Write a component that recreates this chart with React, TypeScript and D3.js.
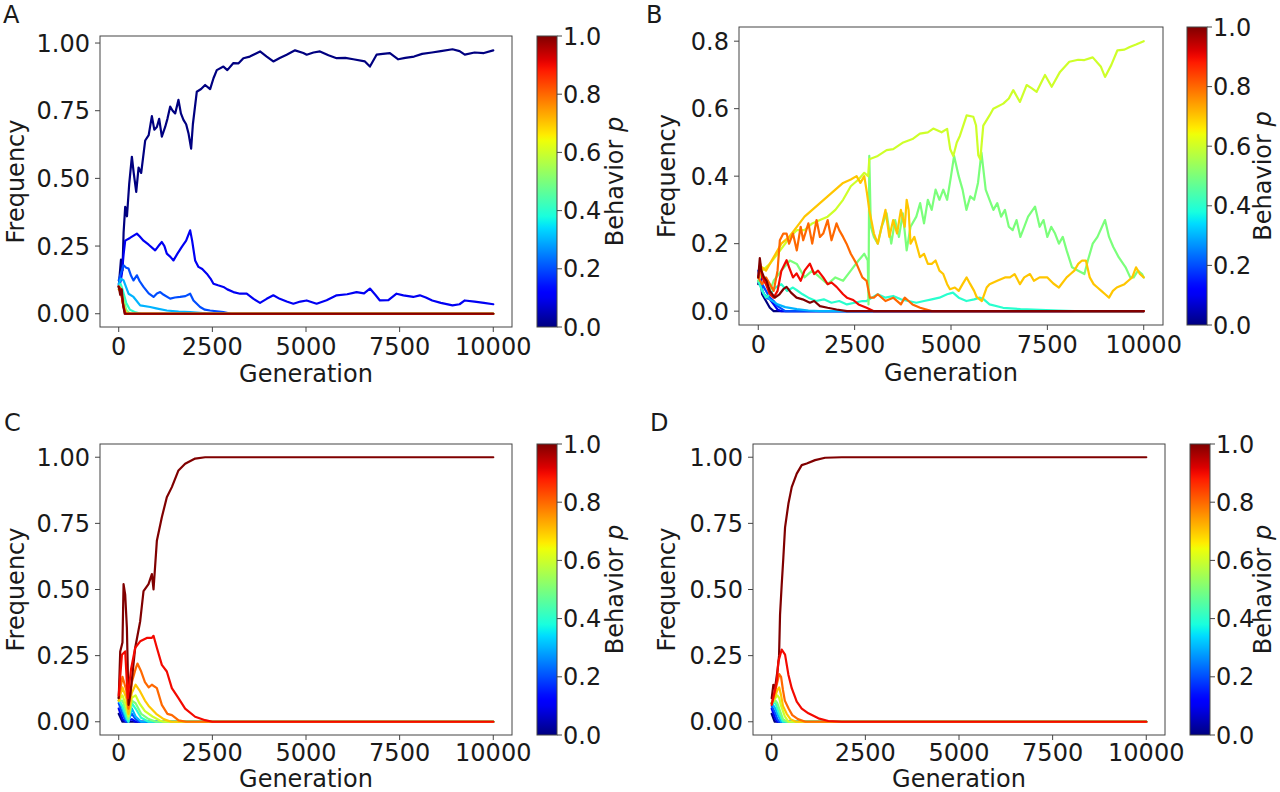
import React from "react";
import * as d3 from "d3";

type Pt = [number, number];

// ---------------- Panel A data (generation, frequency) ----------------
const A_p00: Pt[] = [[0,0.10],[60,0.2],[100,0.16],[130,0.3],[173,0.395],[220,0.36],[280,0.48],[351,0.58],[400,0.52],[467,0.45],[530,0.54],[600,0.52],[707,0.64],[800,0.66],[885,0.73],[950,0.68],[1018,0.69],[1080,0.72],[1151,0.654],[1240,0.69],[1300,0.72],[1373,0.765],[1440,0.75],[1507,0.74],[1595,0.79],[1660,0.74],[1728,0.716],[1800,0.7],[1862,0.667],[1933,0.61],[1980,0.7],[2084,0.82],[2200,0.83],[2307,0.845],[2440,0.83],[2530,0.87],[2618,0.90],[2795,0.913],[2900,0.9],[3062,0.926],[3200,0.925],[3328,0.944],[3500,0.95],[3773,0.969],[3951,0.95],[4128,0.932],[4300,0.945],[4484,0.957],[4707,0.973],[4929,0.963],[5018,0.957],[5200,0.965],[5373,0.969],[5600,0.955],[5818,0.944],[6050,0.945],[6262,0.94],[6573,0.932],[6707,0.913],[6884,0.957],[7050,0.96],[7240,0.963],[7462,0.94],[7650,0.945],[7884,0.95],[8100,0.96],[8362,0.965],[8600,0.97],[8912,0.977],[9100,0.97],[9240,0.957],[9500,0.965],[9750,0.963],[10000,0.973]];
const A_p01: Pt[] = [[0,0.1],[50,0.12],[85,0.148],[130,0.22],[173,0.27],[300,0.28],[484,0.296],[562,0.285],[662,0.27],[800,0.255],[973,0.234],[1060,0.25],[1151,0.265],[1220,0.25],[1284,0.222],[1380,0.21],[1462,0.197],[1560,0.22],[1684,0.247],[1800,0.27],[1907,0.308],[1960,0.27],[2040,0.197],[2129,0.173],[2230,0.165],[2351,0.148],[2450,0.13],[2529,0.111],[2650,0.105],[2795,0.099],[2900,0.09],[3062,0.08],[3240,0.074],[3417,0.074],[3600,0.055],[3773,0.04],[3950,0.055],[4128,0.068],[4300,0.055],[4484,0.045],[4662,0.037],[4850,0.045],[5018,0.049],[5284,0.037],[5550,0.05],[5818,0.068],[6100,0.072],[6350,0.08],[6550,0.075],[6707,0.093],[6850,0.07],[6973,0.049],[7200,0.05],[7418,0.074],[7600,0.068],[7862,0.062],[8040,0.068],[8200,0.06],[8370,0.049],[8600,0.04],[8912,0.031],[9100,0.035],[9240,0.049],[9500,0.045],[9750,0.04],[10000,0.035]];
const A_p02: Pt[] = [[0,0.123],[60,0.15],[129,0.179],[200,0.17],[262,0.167],[330,0.14],[395,0.123],[484,0.142],[560,0.12],[662,0.099],[800,0.075],[929,0.062],[1020,0.075],[1107,0.08],[1200,0.07],[1373,0.056],[1500,0.06],[1640,0.062],[1780,0.065],[1907,0.074],[1996,0.049],[2173,0.025],[2300,0.015],[2440,0.012],[2795,0.006],[3000,0],[10000,0]];
const A_p03: Pt[] = [[0,0.11],[60,0.13],[129,0.123],[262,0.074],[395,0.062],[573,0.031],[840,0.025],[1000,0.02],[1284,0.012],[1600,0.008],[1907,0.006],[2500,0],[10000,0]];
const A_p04: Pt[] = [[0,0.1],[50,0.11],[100,0.09],[200,0.04],[300,0.015],[450,0.005],[600,0],[10000,0]];
const A_p05: Pt[] = [[0,0.1],[50,0.1],[100,0.07],[200,0.015],[300,0],[10000,0]];
const A_p06: Pt[] = [[0,0.09],[50,0.09],[100,0.05],[180,0.005],[250,0],[10000,0]];
const A_p07: Pt[] = [[0,0.09],[60,0.08],[120,0.03],[200,0],[10000,0]];
const A_p08: Pt[] = [[0,0.1],[60,0.09],[120,0.03],[180,0],[10000,0]];
const A_p09: Pt[] = [[0,0.1],[50,0.09],[110,0.04],[170,0],[10000,0]];
const A_p10: Pt[] = [[0,0.1],[40,0.07],[80,0.09],[120,0.03],[160,0],[10000,0]];

// ---------------- Panel B data ----------------
const B_p00: Pt[] = [[0,0.08],[50,0.1],[100,0.05],[200,0.03],[300,0.01],[400,0],[10000,0]];
const B_p01: Pt[] = [[0,0.1],[50,0.12],[100,0.06],[200,0.04],[300,0.035],[400,0.02],[500,0.005],[600,0],[10000,0]];
const B_p02: Pt[] = [[0,0.12],[50,0.09],[100,0.08],[200,0.06],[300,0.04],[400,0.03],[500,0.015],[700,0],[10000,0]];
const B_p03: Pt[] = [[0,0.09],[80,0.07],[150,0.05],[300,0.035],[500,0.02],[700,0.012],[1000,0.006],[1300,0.002],[1600,0],[10000,0]];
const B_p04: Pt[] = [[0,0.09],[100,0.06],[200,0.04],[300,0.05],[450,0.07],[600,0.08],[750,0.06],[900,0.07],[1000,0.062],[1150,0.05],[1300,0.04],[1500,0.03],[1700,0.035],[1900,0.025],[2100,0.03],[2300,0.02],[2500,0.025],[2700,0.03],[2810,0.03],[2950,0.04],[3100,0.05],[3300,0.04],[3500,0.045],[3700,0.035],[3900,0.03],[4100,0.025],[4300,0.03],[4500,0.035],[4700,0.04],[4900,0.05],[5050,0.055],[5200,0.04],[5400,0.03],[5600,0.035],[5750,0.04],[5850,0.035],[6000,0.02],[6350,0.01],[6800,0.006],[7300,0.004],[7800,0.002],[8200,0],[10000,0]];
const B_p05: Pt[] = [[0,0.09],[100,0.11],[200,0.08],[300,0.06],[400,0.09],[600,0.12],[820,0.15],[1000,0.14],[1200,0.1],[1400,0.12],[1600,0.1],[1800,0.08],[2000,0.1],[2200,0.09],[2400,0.12],[2600,0.15],[2750,0.17],[2840,0.15],[2860,0.02],[2880,0.46],[2920,0.25],[3000,0.22],[3100,0.2],[3200,0.25],[3330,0.29],[3450,0.2],[3550,0.27],[3650,0.22],[3750,0.29],[3850,0.18],[3950,0.25],[4100,0.28],[4200,0.32],[4300,0.26],[4400,0.33],[4500,0.3],[4600,0.36],[4700,0.33],[4800,0.36],[4900,0.33],[5000,0.4],[5080,0.46],[5200,0.4],[5300,0.36],[5400,0.3],[5500,0.34],[5600,0.33],[5700,0.38],[5790,0.47],[5900,0.36],[6000,0.33],[6100,0.3],[6200,0.32],[6300,0.28],[6400,0.3],[6500,0.25],[6600,0.24],[6700,0.27],[6800,0.22],[6900,0.25],[7000,0.28],[7180,0.31],[7300,0.25],[7400,0.27],[7500,0.22],[7600,0.25],[7700,0.23],[7800,0.2],[7900,0.22],[8000,0.18],[8140,0.13],[8300,0.12],[8461,0.11],[8550,0.15],[8677,0.2],[8800,0.22],[8996,0.27],[9100,0.22],[9210,0.19],[9350,0.16],[9530,0.13],[9650,0.1],[9740,0.1],[9850,0.12],[9956,0.11],[10000,0.1]];
const B_p06: Pt[] = [[0,0.1],[100,0.12],[200,0.13],[300,0.14],[500,0.17],[700,0.2],[820,0.22],[1000,0.24],[1200,0.24],[1400,0.26],[1600,0.27],[1800,0.28],[2000,0.3],[2200,0.33],[2400,0.37],[2600,0.39],[2750,0.41],[2850,0.4],[2880,0.45],[3100,0.46],[3330,0.477],[3500,0.48],[3761,0.5],[4000,0.51],[4194,0.526],[4400,0.53],[4540,0.541],[4756,0.53],[4900,0.54],[4980,0.48],[5060,0.46],[5150,0.5],[5232,0.52],[5406,0.58],[5579,0.576],[5650,0.55],[5708,0.462],[5760,0.45],[5837,0.55],[6000,0.58],[6097,0.6],[6356,0.615],[6500,0.63],[6616,0.655],[6789,0.62],[6962,0.67],[7100,0.66],[7222,0.65],[7439,0.7],[7612,0.665],[7828,0.709],[8070,0.739],[8300,0.745],[8461,0.744],[8677,0.752],[8890,0.724],[8996,0.694],[9157,0.729],[9318,0.773],[9500,0.775],[9637,0.783],[9800,0.79],[10000,0.8]];
const B_p07: Pt[] = [[0,0.1],[100,0.13],[200,0.12],[300,0.14],[400,0.16],[600,0.2],[800,0.22],[1000,0.25],[1200,0.28],[1400,0.3],[1600,0.32],[1800,0.34],[2000,0.36],[2200,0.38],[2400,0.39],[2550,0.4],[2650,0.38],[2750,0.4],[2820,0.35],[2880,0.3],[2950,0.26],[3000,0.23],[3100,0.2],[3200,0.25],[3300,0.3],[3400,0.22],[3500,0.27],[3600,0.23],[3700,0.3],[3800,0.25],[3850,0.33],[3900,0.3],[3950,0.2],[4050,0.22],[4194,0.16],[4300,0.17],[4400,0.14],[4500,0.14],[4600,0.15],[4700,0.12],[4800,0.11],[4900,0.08],[4973,0.065],[5100,0.07],[5200,0.06],[5300,0.08],[5406,0.1],[5500,0.08],[5600,0.06],[5665,0.042],[5800,0.03],[5925,0.07],[6000,0.08],[6200,0.09],[6400,0.1],[6530,0.1],[6650,0.11],[6789,0.08],[6900,0.1],[7049,0.11],[7150,0.09],[7300,0.1],[7500,0.1],[7655,0.082],[7800,0.07],[8000,0.1],[8100,0.11],[8200,0.12],[8300,0.14],[8400,0.15],[8500,0.15],[8600,0.1],[8700,0.08],[8800,0.07],[8900,0.06],[9000,0.05],[9100,0.04],[9200,0.06],[9300,0.07],[9500,0.08],[9600,0.09],[9700,0.1],[9800,0.13],[9900,0.11],[10000,0.1]];
const B_p08: Pt[] = [[0,0.1],[100,0.08],[200,0.1],[300,0.08],[400,0.06],[500,0.12],[560,0.21],[650,0.23],[734,0.23],[800,0.2],[900,0.23],[1000,0.18],[1100,0.25],[1166,0.21],[1300,0.26],[1400,0.2],[1512,0.27],[1600,0.22],[1685,0.23],[1800,0.27],[1900,0.21],[2031,0.26],[2100,0.24],[2200,0.22],[2290,0.2],[2400,0.17],[2550,0.14],[2700,0.1],[2810,0.09],[2896,0.04],[3000,0.04],[3100,0.05],[3300,0.03],[3500,0.04],[3700,0.02],[3800,0.04],[3900,0.03],[4000,0.02],[4200,0.01],[4500,0],[10000,0]];
const B_p09: Pt[] = [[0,0.1],[50,0.14],[100,0.1],[200,0.08],[300,0.05],[400,0.04],[500,0.06],[600,0.12],[734,0.151],[800,0.13],[900,0.1],[993,0.112],[1100,0.09],[1200,0.12],[1339,0.141],[1450,0.11],[1550,0.12],[1685,0.1],[1800,0.08],[1900,0.085],[2031,0.072],[2200,0.05],[2300,0.04],[2463,0.033],[2600,0.02],[2810,0.01],[3000,0],[10000,0]];
const B_p10: Pt[] = [[0,0.1],[40,0.157],[80,0.12],[150,0.1],[215,0.09],[300,0.06],[431,0.04],[550,0.05],[650,0.065],[734,0.072],[850,0.055],[993,0.04],[1150,0.035],[1339,0.025],[1450,0.03],[1600,0.015],[1800,0.01],[2031,0.005],[2300,0],[10000,0]];

// ---------------- Panel C data ----------------
const C_p00: Pt[] = [[0,0.03],[100,0],[10000,0]];
const C_p01: Pt[] = [[0,0.05],[100,0.01],[200,0],[350,0.01],[450,0],[10000,0]];
const C_p02: Pt[] = [[0,0.07],[100,0.03],[200,0],[350,0.03],[450,0.01],[550,0],[10000,0]];
const C_p03: Pt[] = [[0,0.09],[100,0.05],[200,0.01],[260,0],[350,0.05],[450,0.02],[600,0],[10000,0]];
const C_p04: Pt[] = [[0,0.08],[100,0.06],[200,0.02],[260,0],[350,0.07],[450,0.05],[600,0.015],[800,0],[10000,0]];
const C_p05: Pt[] = [[0,0.08],[100,0.08],[200,0.04],[260,0.01],[350,0.08],[450,0.07],[600,0.03],[800,0.01],[1000,0],[10000,0]];
const C_p06: Pt[] = [[0,0.08],[100,0.1],[200,0.06],[260,0.02],[350,0.09],[450,0.1],[550,0.07],[700,0.04],[900,0.02],[1100,0.005],[1200,0],[10000,0]];
const C_p07: Pt[] = [[0,0.08],[100,0.13],[200,0.09],[260,0.03],[350,0.11],[450,0.14],[550,0.12],[700,0.08],[800,0.06],[1000,0.03],[1200,0.01],[1400,0],[10000,0]];
const C_p08: Pt[] = [[0,0.09],[100,0.17],[200,0.12],[260,0.05],[350,0.15],[450,0.2],[500,0.22],[600,0.19],[700,0.15],[800,0.13],[885,0.14],[1018,0.127],[1151,0.064],[1300,0.03],[1420,0.025],[1600,0.005],[1800,0],[10000,0]];
const C_p09: Pt[] = [[0,0.1],[85,0.253],[173,0.266],[240,0.089],[330,0.2],[440,0.28],[573,0.304],[750,0.317],[885,0.317],[929,0.325],[1018,0.28],[1151,0.215],[1284,0.19],[1418,0.127],[1595,0.089],[1773,0.05],[2040,0.019],[2307,0.006],[2500,0],[10000,0]];
const C_p10: Pt[] = [[0,0.089],[40,0.266],[100,0.3],[129,0.52],[173,0.48],[218,0.355],[262,0.064],[307,0.1],[440,0.28],[573,0.38],[662,0.494],[795,0.52],[885,0.558],[929,0.5],[1018,0.684],[1151,0.773],[1284,0.849],[1418,0.887],[1595,0.95],[1773,0.975],[2040,0.995],[2307,1.0],[2500,1.0],[10000,1.0]];

// ---------------- Panel D data ----------------
const D_p00: Pt[] = [[0,0.03],[80,0],[10000,0]];
const D_p01: Pt[] = [[0,0.05],[100,0.01],[150,0],[10000,0]];
const D_p02: Pt[] = [[0,0.06],[100,0.03],[150,0.01],[200,0],[10000,0]];
const D_p03: Pt[] = [[0,0.07],[100,0.05],[150,0.03],[250,0],[10000,0]];
const D_p04: Pt[] = [[0,0.07],[100,0.07],[150,0.05],[200,0.03],[300,0],[10000,0]];
const D_p05: Pt[] = [[0,0.07],[100,0.08],[150,0.07],[200,0.05],[300,0.01],[400,0],[10000,0]];
const D_p06: Pt[] = [[0,0.07],[100,0.09],[150,0.1],[200,0.09],[250,0.06],[350,0.02],[450,0],[10000,0]];
const D_p07: Pt[] = [[0,0.07],[100,0.1],[150,0.12],[200,0.13],[250,0.1],[300,0.06],[400,0.03],[500,0.01],[650,0],[10000,0]];
const D_p08: Pt[] = [[0,0.07],[100,0.12],[150,0.15],[200,0.18],[250,0.17],[300,0.12],[350,0.08],[450,0.05],[550,0.025],[700,0.01],[900,0],[10000,0]];
const D_p09: Pt[] = [[0,0.064],[133,0.152],[178,0.228],[267,0.273],[356,0.254],[445,0.178],[534,0.127],[668,0.076],[801,0.05],[979,0.032],[1246,0.013],[1513,0.003],[1870,0],[10000,0]];
const D_p10: Pt[] = [[0,0.089],[44,0.14],[89,0.127],[160,0.2],[196,0.25],[222,0.405],[267,0.52],[310,0.62],[356,0.735],[445,0.824],[534,0.887],[668,0.938],[801,0.97],[935,0.976],[1157,0.989],[1424,0.998],[1870,1.0],[10000,1.0]];

const BEHAVIORS = [0, 0.1, 0.2, 0.3, 0.4, 0.5, 0.6, 0.7, 0.8, 0.9, 1.0];
const X_TICKS = [0, 2500, 5000, 7500, 10000];
const Y_TICKS_A = [0, 0.25, 0.5, 0.75, 1.0];
const Y_TICKS_B = [0, 0.2, 0.4, 0.6, 0.8];
const CB_TICKS = [0, 0.2, 0.4, 0.6, 0.8, 1.0];

const SERIES_A = [A_p00, A_p01, A_p02, A_p03, A_p04, A_p05, A_p06, A_p07, A_p08, A_p09, A_p10];
const SERIES_B = [B_p00, B_p01, B_p02, B_p03, B_p04, B_p05, B_p06, B_p07, B_p08, B_p09, B_p10];
const SERIES_C = [C_p00, C_p01, C_p02, C_p03, C_p04, C_p05, C_p06, C_p07, C_p08, C_p09, C_p10];
const SERIES_D = [D_p00, D_p01, D_p02, D_p03, D_p04, D_p05, D_p06, D_p07, D_p08, D_p09, D_p10];

// matplotlib "jet" colormap as piecewise-linear d3 scales
const jetR = d3.scaleLinear().domain([0, 0.35, 0.66, 0.89, 1]).range([0, 0, 1, 1, 0.5]).clamp(true);
const jetG = d3.scaleLinear().domain([0, 0.125, 0.375, 0.64, 0.91, 1]).range([0, 0, 1, 1, 0, 0]).clamp(true);
const jetB = d3.scaleLinear().domain([0, 0.11, 0.34, 0.65, 1]).range([0.5, 1, 1, 0, 0]).clamp(true);
const jet = (t: number) => d3.rgb(jetR(t) * 255, jetG(t) * 255, jetB(t) * 255).formatHex();

const FONT = "'DejaVu Sans', sans-serif";
const FS = 24;
const TXT = "#1a1a1a";
const AX = "#444";

type Layout = {
  id: string;
  letter: string;
  lx: number; ly: number;
  l: number; r: number; t: number; b: number;
  yDomain: [number, number];
  yTicks: number[];
  yFmt: string;
  cbL: number; cbR: number;
  xTickY: number; xLabelY: number;
  yLabelX: number; cbLabelX: number;
  series: Pt[][];
  order: number[];
};

const PANELS: Layout[] = [
  { id: "A", letter: "A", lx: 3, ly: 23, l: 100, r: 512, t: 36, b: 327, yDomain: [-0.049, 1.026], yTicks: Y_TICKS_A, yFmt: ".2f", cbL: 537, cbR: 557, xTickY: 355, xLabelY: 382, yLabelX: 24, cbLabelX: 623, series: SERIES_A, order: [0,1,2,3,4,5,6,7,8,9,10] },
  { id: "B", letter: "B", lx: 646, ly: 23, l: 739, r: 1163, t: 27, b: 325, yDomain: [-0.041, 0.842], yTicks: Y_TICKS_B, yFmt: ".1f", cbL: 1187, cbR: 1207, xTickY: 353, xLabelY: 381, yLabelX: 675, cbLabelX: 1271, series: SERIES_B, order: [0,1,2,3,4,5,6,7,8,9,10] },
  { id: "C", letter: "C", lx: 4, ly: 431, l: 100, r: 512, t: 444, b: 735, yDomain: [-0.05, 1.05], yTicks: Y_TICKS_A, yFmt: ".2f", cbL: 537, cbR: 557, xTickY: 761, xLabelY: 787, yLabelX: 24, cbLabelX: 623, series: SERIES_C, order: [0,1,2,3,4,5,6,7,8,10,9] },
  { id: "D", letter: "D", lx: 650, ly: 431, l: 753, r: 1165, t: 444, b: 735, yDomain: [-0.05, 1.05], yTicks: Y_TICKS_A, yFmt: ".2f", cbL: 1190, cbR: 1210, xTickY: 761, xLabelY: 787, yLabelX: 675, cbLabelX: 1271, series: SERIES_D, order: [0,1,2,3,4,5,6,7,8,10,9] },
];

function Panel({ p }: { p: Layout }) {
  const x = d3.scaleLinear().domain([-500, 10500]).range([p.l, p.r]);
  const y = d3.scaleLinear().domain(p.yDomain).range([p.b, p.t]);
  const cb = d3.scaleLinear().domain([0, 1]).range([p.b, p.t]);
  const line = d3.line<Pt>().x((d) => x(d[0])).y((d) => y(d[1]));
  const fmt = d3.format(p.yFmt);
  const gid = `jet-${p.id}`;
  const stops = d3.range(0, 1.0001, 0.02);
  const midY = (p.t + p.b) / 2;
  return (
    <g>
      <defs>
        <linearGradient id={gid} x1="0" y1="1" x2="0" y2="0">
          {stops.map((s) => (
            <stop key={s} offset={s} stopColor={jet(s)} />
          ))}
        </linearGradient>
      </defs>
      <text x={p.lx} y={p.ly} fontSize={24} fontFamily={FONT} fill={TXT}>{p.letter}</text>
      <g fill="none" strokeWidth={2.2} strokeLinejoin="round" strokeLinecap="round">
        {p.order.map((i) => (
          <path key={i} d={line(p.series[i]) || ""} stroke={jet(BEHAVIORS[i])} />
        ))}
      </g>
      <rect x={p.l} y={p.t} width={p.r - p.l} height={p.b - p.t} fill="none" stroke={AX} strokeWidth={1} />
      {X_TICKS.map((v) => (
        <g key={`x${v}`}>
          <line x1={x(v)} x2={x(v)} y1={p.b} y2={p.b + 5} stroke={AX} strokeWidth={1} />
          <text x={x(v)} y={p.xTickY} textAnchor="middle" fontSize={FS} fontFamily={FONT} fill={TXT}>{v}</text>
        </g>
      ))}
      {p.yTicks.map((v) => (
        <g key={`y${v}`}>
          <line x1={p.l - 5} x2={p.l} y1={y(v)} y2={y(v)} stroke={AX} strokeWidth={1} />
          <text x={p.l - 10} y={y(v)} dy="0.36em" textAnchor="end" fontSize={FS} fontFamily={FONT} fill={TXT}>{fmt(v)}</text>
        </g>
      ))}
      <text x={(p.l + p.r) / 2} y={p.xLabelY} textAnchor="middle" fontSize={FS} fontFamily={FONT} fill={TXT}>Generation</text>
      <text transform={`translate(${p.yLabelX},${midY}) rotate(-90)`} textAnchor="middle" fontSize={FS} fontFamily={FONT} fill={TXT}>Frequency</text>
      <rect x={p.cbL} y={p.t} width={p.cbR - p.cbL} height={p.b - p.t} fill={`url(#${gid})`} stroke={AX} strokeWidth={1} />
      {CB_TICKS.map((v) => (
        <g key={`c${v}`}>
          <line x1={p.cbR} x2={p.cbR + 5} y1={cb(v)} y2={cb(v)} stroke={AX} strokeWidth={1} />
          <text x={p.cbR + 6} y={cb(v)} dy="0.36em" fontSize={FS} fontFamily={FONT} fill={TXT}>{d3.format(".1f")(v)}</text>
        </g>
      ))}
      <text transform={`translate(${p.cbLabelX},${midY}) rotate(-90)`} textAnchor="middle" fontSize={FS} fontFamily={FONT} fill={TXT}>
        Behavior <tspan fontStyle="italic">p</tspan>
      </text>
    </g>
  );
}

export default function App() {
  return (
    <svg width={1280} height={792} style={{ position: "absolute", left: 0, top: 0, background: "#fff" }}>
      <rect x={0} y={0} width={1280} height={792} fill="#fff" />
      {PANELS.map((p) => (
        <Panel key={p.id} p={p} />
      ))}
    </svg>
  );
}
